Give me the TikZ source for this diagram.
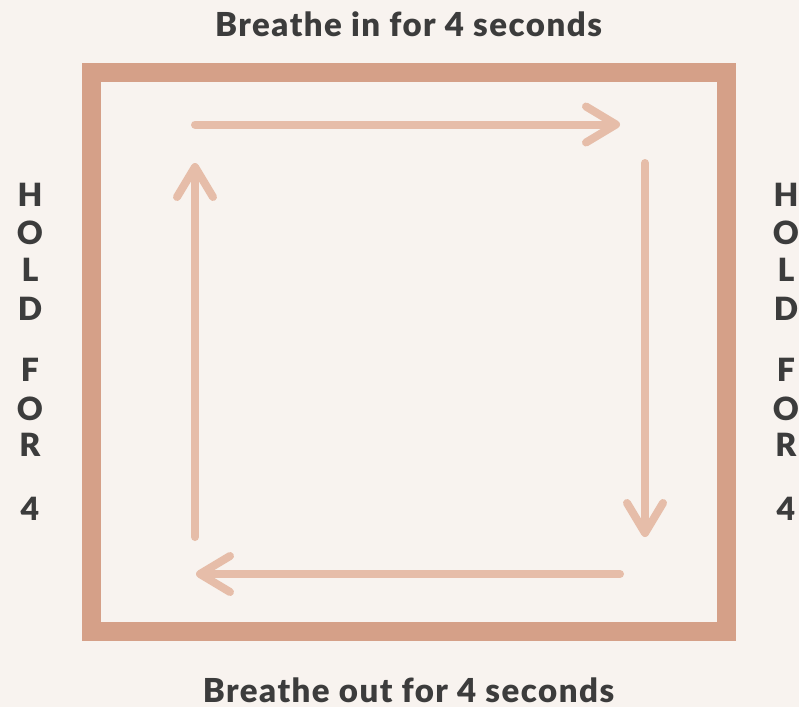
\documentclass[tikz,border=0pt]{standalone}
\usepackage{fontspec}
\setmainfont{Lato}
\newfontfamily\heavyfont{Lato Black}
\newfontfamily\widefont[LetterSpace=4.5]{Lato Black}
\usepackage{tikz}
\usetikzlibrary{arrows.meta, positioning, calc}
\definecolor{paper}{HTML}{F8F3EF}
\definecolor{framec}{HTML}{D5A088}
\definecolor{flowc}{HTML}{E6BDA9}
\definecolor{inkc}{HTML}{3C3C3C}
\begin{document}
\begin{tikzpicture}[
        x=1pt, y=-1pt,
        frame/.style={draw=framec, line width=19pt},
        flow/.style={draw=flowc, line width=8pt, line cap=round, -{Straight Barb[length=30pt, width=36pt, round]}},
        caption/.style={anchor=base, inner sep=0pt, text=inkc, font=\fontsize{33}{38}\widefont},
        holdtxt/.style={inner sep=0pt, text=inkc, font=\fontsize{32}{38}\heavyfont}
    ]
        \fill[paper] (0,0) rectangle (799,707);
        \useasboundingbox (0,0) rectangle (799,707);

        \draw[frame] (91,72) rectangle (726.5,631);

        \node[caption] (inhale) at (408.5,36) {Breathe in for 4 seconds};
        \node[caption] (exhale) at (408.5,702) {Breathe out for 4 seconds};

        \coordinate (tl) at (195,124.5);
        \coordinate (tr) at (620,124.5);
        \coordinate (rt) at (645,163);
        \coordinate (rb) at (645,537);
        \coordinate (br) at (620,574);
        \coordinate (bl) at (196,574);
        \coordinate (lb) at (195,537);
        \coordinate (lt) at (195,163);

        \draw[flow] (tl) -- (tr);
        \draw[flow] (rt) -- (rb);
        \draw[flow] (br) -- (bl);
        \draw[flow] (lb) -- (lt);

        \foreach \ch/\yy [count=\i] in {H/194.5, O/233, L/270, D/308.5, F/370, O/409, R/445, 4/508.5} {
            \node[holdtxt] (holdl\i) at (30,\yy) {\ch};
            \node[holdtxt] (holdr\i) at (786,\yy) {\ch};
        }
    \end{tikzpicture}
\end{document}
